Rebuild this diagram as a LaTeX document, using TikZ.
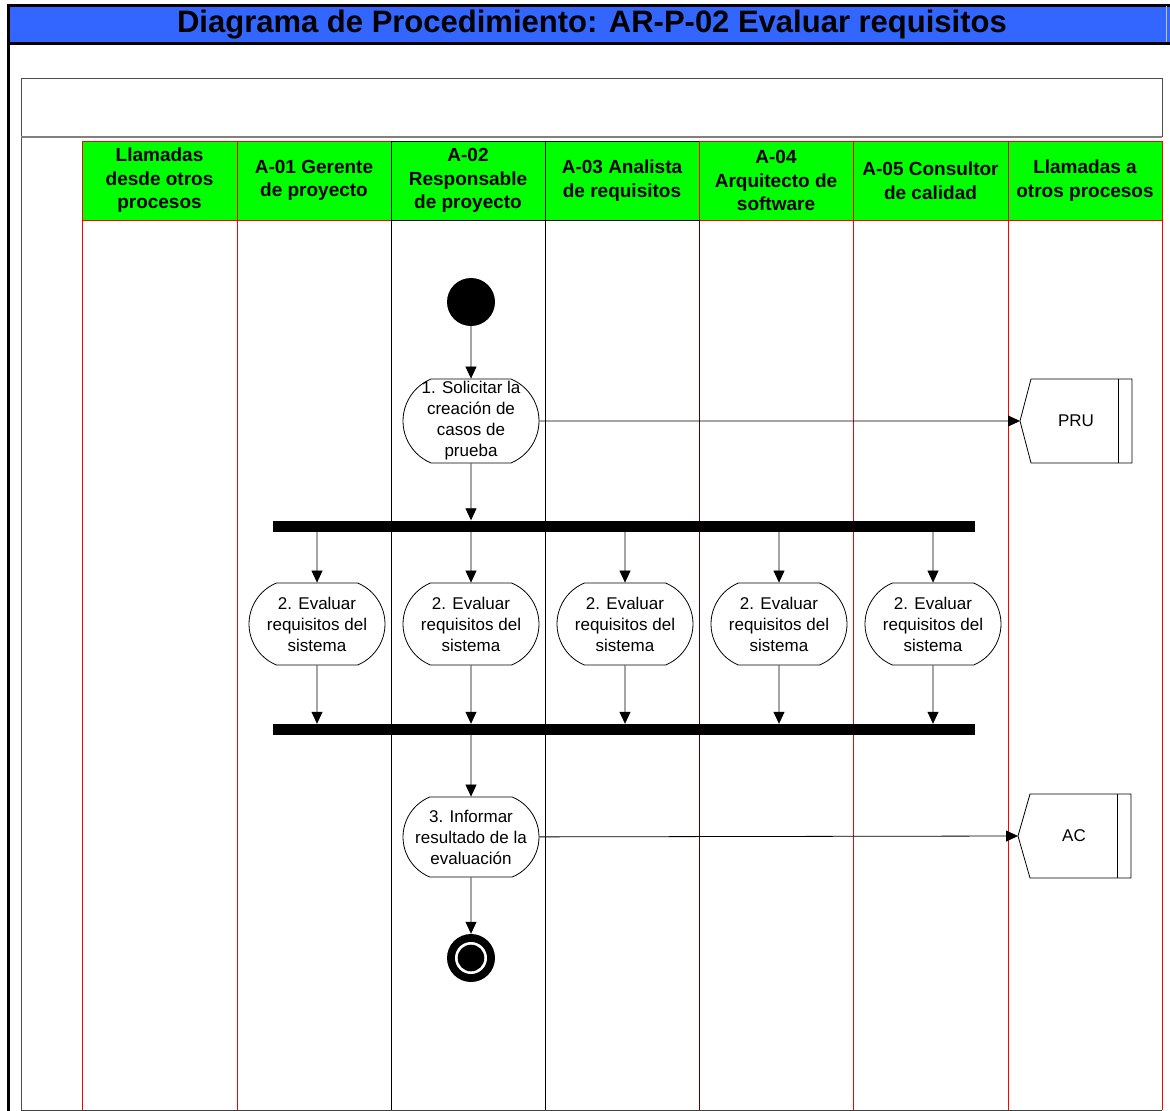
\documentclass[tikz,border=0pt]{standalone}
\usepackage{fontspec}
\setmainfont{Liberation Sans}
\usetikzlibrary{arrows.meta,positioning,shapes.misc}
\definecolor{azul}{RGB}{51,102,255}
\definecolor{verde}{RGB}{0,255,0}
\tikzset{
  actividad/.style={draw,line width=0.8pt,rounded rectangle,rounded rectangle arc length=135,
    minimum width=136pt,minimum height=82pt,inner sep=0pt,align=center,font=\fontsize{17}{21}\selectfont},
  barra/.style={fill=black,minimum width=702pt,minimum height=11pt,inner sep=0pt},
  flecha/.style={-{Triangle[length=12pt,width=11pt]},line width=0.8pt},
  cabecera/.style={fill=verde,line width=0.8pt,minimum height=79pt,inner sep=0pt,align=center,
    font=\bfseries\fontsize{19}{23.5}\selectfont},
  inicio/.style={circle,fill=black,minimum size=48pt,inner sep=0pt},
  externo/.style={font=\fontsize{17}{21}\selectfont}
}
\begin{document}
\begin{tikzpicture}[x=1pt,y=-1pt]
\useasboundingbox (0,0) rectangle (1170,1111);
\fill[azul] (8,6) rectangle (1170,42);
\node[font=\bfseries\fontsize{31}{34}\selectfont] (titulo) at (592,25) {Diagrama de Procedimiento: AR-P-02 Evaluar requisitos};
\draw[line width=3pt] (1170,5) -- (8.5,5) -- (8.5,1111);
\draw[line width=3pt] (8.5,43) -- (1170,43);
\draw[gray!50,line width=0.8pt] (1166,6) -- (1166,42);
\draw[black!70,line width=1pt] (21,1110) -- (21,78) -- (1162,78) -- (1162,137);
\draw[gray,line width=2pt] (21,137) -- (1162,137);
\foreach \xa/\xb/\col/\txt [count=\i] in {
  82/237/red/{Llamadas\\desde otros\\procesos},
  237/391/red/{A-01 Gerente\\de proyecto},
  391/545/black/{A-02\\Responsable\\de proyecto},
  545/699/black/{A-03 Analista\\de requisitos},
  699/853/red/{A-04\\Arquitecto de\\software},
  853/1008/red/{A-05 Consultor\\de calidad},
  1008/1162/red/{Llamadas a\\otros procesos}}
  \node[cabecera,draw=\col,minimum width={\xb-\xa}] (c\i) at ({(\xa+\xb)/2},180.5) {\txt};
\foreach \x/\col in {82/red,237/red,391/black,545/black,699/{red!35!black},853/red,1008/red,1162/red}
  \draw[\col,line width=0.8pt] (\x,220) -- (\x,1110);
\draw[black!75,line width=1pt] (21,1110) -- (1162,1110);

\node[inicio] (inicio) at (471,302) {};
\node[actividad,minimum height=84pt] (a1) at (471,421)
  {\parbox[c][50pt][c]{100pt}{\centering\makebox[100pt]{1. Solicitar la}\\creación de\\casos de\\prueba}};
\node[barra] (fork) at (624,526) {};
\foreach \x [count=\i] in {317,471,625,779,933}
  \node[actividad] (a2-\i) at (\x,624) {2. Evaluar\\requisitos del\\sistema};
\node[barra] (join) at (624,729.5) {};
\node[actividad,minimum height=80pt] (a3) at (471,837) {3. Informar\\resultado de la\\evaluación};
\node[inicio] (fin) at (471,958) {};
\fill[white] (fin) circle (16pt);
\fill[black] (fin) circle (13.3pt);

\node[externo] (pru) at (1076,421) {PRU};
\coordinate (pru-punta) at (1020,421);
\draw[line width=0.8pt] (pru-punta) -- ++(11,-42) -- ++(101,0) -- ++(0,84) -- ++(-101,0) -- cycle;
\draw[line width=0.8pt] (1118,379) -- (1118,463);
\node[externo] (ac) at (1074,836) {AC};
\coordinate (ac-punta) at (1018,836);
\draw[line width=0.8pt] (ac-punta) -- ++(12,-42) -- ++(101,0) -- ++(0,84) -- ++(-101,0) -- cycle;
\draw[line width=0.8pt] (1117,794) -- (1117,878);

\draw[flecha] (inicio) -- (a1);
\draw[flecha] (a1) -- (a1 |- fork.north);
\foreach \i in {1,...,5} {
  \draw[flecha] (a2-\i |- fork.south) -- (a2-\i);
  \draw[flecha] (a2-\i) -- (a2-\i |- join.north);
}
\draw[flecha] (a3 |- join.south) -- (a3);
\draw[flecha] (a3) -- (fin);
\draw[flecha] (a1) -- (pru-punta);
\draw[flecha] (a3) -- (ac-punta);
\end{tikzpicture}
\end{document}
